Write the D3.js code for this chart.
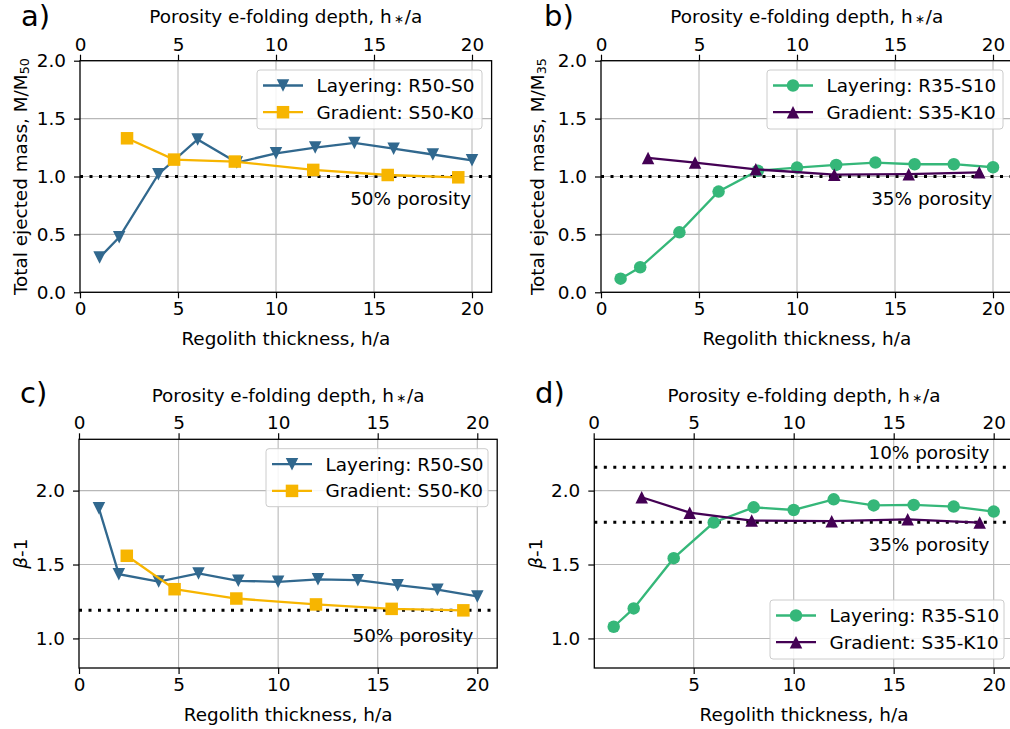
<!DOCTYPE html>
<html><head><meta charset="utf-8">
<script src="https://cdn.jsdelivr.net/npm/d3@7"></script>
<style>body{margin:0;background:#fff}svg{display:block}text{font-family:"DejaVu Sans",sans-serif;fill:#000}</style>
</head><body>
<svg id="chart" width="1010" height="729"></svg>
<script>
// ---- data ----
const xLayer = [1, 2, 4, 6, 8, 10, 12, 14, 16, 18, 20];
const xGrad = [2.4, 4.8, 7.9, 11.9, 15.7, 19.3];
const massR50 = [0.30, 0.475, 1.02, 1.32, 1.12, 1.20, 1.25, 1.29, 1.24, 1.19, 1.14];
const massS50 = [1.33, 1.146, 1.129, 1.057, 1.013, 0.993];
const massR35 = [0.118, 0.216, 0.518, 0.87, 1.05, 1.077, 1.10, 1.12, 1.106, 1.106, 1.08];
const massS35 = [1.16, 1.12, 1.062, 1.016, 1.02, 1.036];
const betaR50 = [1.88, 1.435, 1.385, 1.44, 1.39, 1.383, 1.40, 1.394, 1.36, 1.33, 1.284];
const betaS50 = [1.559, 1.333, 1.27, 1.23, 1.20, 1.19];
const betaR35 = [1.079, 1.203, 1.543, 1.784, 1.887, 1.869, 1.941, 1.90, 1.903, 1.892, 1.858];
const betaS35 = [1.955, 1.851, 1.797, 1.793, 1.806, 1.784];
const refMass = [1.0];
const refBeta50 = [1.19];
const refBeta35 = [2.158, 1.786];
const xTicks = [0, 5, 10, 15, 20];
const xTicksD = [5, 10, 15, 20];
const massTicks = [0.0, 0.5, 1.0, 1.5, 2.0];
const betaTicks = [1.0, 1.5, 2.0];

const C = {blue: "#31688e", orange: "#f7b500", green: "#35b779", purple: "#440154"};
const svg = d3.select("#chart");
const FS = 18.4;

function markerPath(type, s) {
  const h = s / 2;
  if (type === "square") return `M${-h},${-h}H${h}V${h}H${-h}Z`;
  if (type === "down") return `M${-h},${-h}H${h}L0,${h}Z`;
  if (type === "up") return `M${-h},${h}H${h}L0,${-h}Z`;
  return d3.symbol(d3.symbolCircle, Math.PI * h * h)();
}

function panel(cfg) {
  const g = svg.append("g");
  const x = d3.scaleLinear().domain(cfg.xd).range(cfg.xr);
  const y = d3.scaleLinear().domain(cfg.yd).range(cfg.yr);
  const [L, R] = cfg.xr, [B, T] = cfg.yr;
  // grid
  g.selectAll(".gx").data(cfg.xt.filter(v => v > cfg.xd[0])).enter().append("line")
    .attr("x1", d => x(d)).attr("x2", d => x(d)).attr("y1", T).attr("y2", B)
    .attr("stroke", "#b8b8b8").attr("stroke-width", 1.1);
  g.selectAll(".gy").data(cfg.yt).enter().append("line")
    .attr("x1", L).attr("x2", R).attr("y1", d => y(d)).attr("y2", d => y(d))
    .attr("stroke", "#b8b8b8").attr("stroke-width", 1.1);
  // reference lines
  g.selectAll(".ref").data(cfg.refs).enter().append("line")
    .attr("x1", L).attr("x2", R).attr("y1", d => y(d)).attr("y2", d => y(d))
    .attr("stroke", "#000").attr("stroke-width", 3).attr("stroke-dasharray", "3,6.5");
  // series
  cfg.series.forEach(s => {
    const pts = s.x.map((v, i) => [v, s.y[i]]);
    g.append("path").datum(pts)
      .attr("d", d3.line().x(d => x(d[0])).y(d => y(d[1])))
      .attr("fill", "none").attr("stroke", s.color).attr("stroke-width", 2.3);
    g.selectAll(null).data(pts).enter().append("path")
      .attr("d", markerPath(s.marker, 12.5))
      .attr("transform", d => `translate(${x(d[0])},${y(d[1])})`)
      .attr("fill", s.color);
  });
  // spines
  g.append("rect").attr("x", L).attr("y", T).attr("width", R - L).attr("height", B - T)
    .attr("fill", "none").attr("stroke", "#000").attr("stroke-width", 1.3);
  // axes
  const fmtY = d3.format(".1f");
  const ax = [
    g.append("g").attr("transform", `translate(0,${B})`).call(d3.axisBottom(x).tickValues(cfg.xtb).tickSize(6).tickPadding(4)),
    g.append("g").attr("transform", `translate(0,${T})`).call(d3.axisTop(x).tickValues(cfg.xt).tickSize(6).tickPadding(4)),
    g.append("g").attr("transform", `translate(${L},0)`).call(d3.axisLeft(y).tickValues(cfg.yt).tickFormat(fmtY).tickSize(6).tickPadding(8))
  ];
  ax.forEach(a => {
    a.select(".domain").remove();
    a.selectAll("line").attr("stroke", "#000").attr("stroke-width", 1.2);
    a.selectAll("text").style("font-size", FS + "px").style("font-family", '"DejaVu Sans",sans-serif').attr("fill", "#000");
  });
  // axis titles
  g.append("text").attr("x", (L + R) / 2).attr("y", B + 46).attr("text-anchor", "middle")
    .attr("dominant-baseline", "central").style("font-size", FS + "px").text("Regolith thickness, h/a");
  const tt = g.append("text").attr("x", (L + R) / 2).attr("y", T - 44.5).attr("text-anchor", "middle")
    .attr("dominant-baseline", "central").style("font-size", FS + "px");
  tt.append("tspan").text("Porosity e-folding depth, h");
  tt.append("tspan").text("\u2217").style("font-size", "12px").attr("dy", 3).attr("dx", 2);
  tt.append("tspan").text("/a").attr("dy", -3).attr("dx", 1);
  const yl = g.append("text").attr("transform", `translate(${cfg.ylx},${(T + B) / 2}) rotate(-90)`)
    .attr("text-anchor", "middle").attr("dominant-baseline", "central").style("font-size", FS + "px");
  if (cfg.ylab === "beta") {
    yl.append("tspan").text("\u03B2").style("font-style", "italic");
    yl.append("tspan").text("-1");
  } else {
    yl.append("tspan").text("Total ejected mass, M/M");
    yl.append("tspan").text(cfg.ylab).style("font-size", "12.8px").attr("dy", 4);
  }
  // panel letter
  g.append("text").attr("x", cfg.lab[0]).attr("y", cfg.lab[1]).style("font-size", "29px").text(cfg.letter);
  // annotations
  cfg.notes.forEach(n => {
    g.append("text").attr("x", x(n[0])).attr("y", y(n[1])).attr("text-anchor", "end")
      .attr("dominant-baseline", "central").style("font-size", FS + "px").text(n[2]);
  });
  // legend
  const lg = cfg.legend;
  g.append("rect").attr("x", lg.x).attr("y", lg.y).attr("width", lg.w).attr("height", lg.h)
    .attr("rx", 3).attr("fill", "#fff").attr("fill-opacity", 0.85).attr("stroke", "#cccccc").attr("stroke-width", 1);
  cfg.series.forEach((s, i) => {
    const ry = lg.y + 15.5 + i * 26.7;
    g.append("line").attr("x1", lg.x + 6).attr("x2", lg.x + 46).attr("y1", ry).attr("y2", ry)
      .attr("stroke", s.color).attr("stroke-width", 2.3);
    g.append("path").attr("d", markerPath(s.marker, 12.5)).attr("transform", `translate(${lg.x + 26},${ry})`).attr("fill", s.color);
    g.append("text").attr("x", lg.x + 59.5).attr("y", ry).attr("dominant-baseline", "central")
      .style("font-size", FS + "px").text(s.name);
  });
}

panel({
  letter: "a)", lab: [21, 26], xd: [0, 21], xr: [80, 491.6], yd: [0, 2], yr: [292.3, 60.7],
  xt: xTicks, xtb: xTicks, yt: massTicks, refs: refMass, ylab: "50", ylx: 20,
  series: [
    {name: "Layering: R50-S0", x: xLayer, y: massR50, color: C.blue, marker: "down"},
    {name: "Gradient: S50-K0", x: xGrad, y: massS50, color: C.orange, marker: "square"}
  ],
  notes: [[19.95, 0.81, "50% porosity"]],
  legend: {x: 257, y: 70, w: 225, h: 59}
});
panel({
  letter: "b)", lab: [544, 26], xd: [0, 21], xr: [601, 1012.6], yd: [0, 2], yr: [292.3, 60.7],
  xt: xTicks, xtb: xTicks, yt: massTicks, refs: refMass, ylab: "35", ylx: 537,
  series: [
    {name: "Layering: R35-S10", x: xLayer, y: massR35, color: C.green, marker: "circle"},
    {name: "Gradient: S35-K10", x: xGrad, y: massS35, color: C.purple, marker: "up"}
  ],
  notes: [[19.95, 0.81, "35% porosity"]],
  legend: {x: 767, y: 70, w: 236, h: 59}
});
panel({
  letter: "c)", lab: [20, 403], xd: [0, 21], xr: [79, 497.2], yd: [0.8, 2.347], yr: [668, 439.3],
  xt: xTicks, xtb: xTicks, yt: betaTicks, refs: refBeta50, ylab: "beta", ylx: 20,
  series: [
    {name: "Layering: R50-S0", x: xLayer, y: betaR50, color: C.blue, marker: "down"},
    {name: "Gradient: S50-K0", x: xGrad, y: betaS50, color: C.orange, marker: "square"}
  ],
  notes: [[19.8, 1.018, "50% porosity"]],
  legend: {x: 266, y: 448.7, w: 222, h: 58}
});
panel({
  letter: "d)", lab: [535, 403], xd: [0.03, 21], xr: [594.3, 1013.7], yd: [0.8, 2.347], yr: [668, 439.3],
  xt: xTicks, xtb: xTicksD, yt: betaTicks, refs: refBeta35, ylab: "beta", ylx: 535,
  series: [
    {name: "Layering: R35-S10", x: xLayer, y: betaR35, color: C.green, marker: "circle"},
    {name: "Gradient: S35-K10", x: xGrad, y: betaS35, color: C.purple, marker: "up"}
  ],
  notes: [[19.78, 2.257, "10% porosity"], [19.78, 1.637, "35% porosity"]],
  legend: {x: 770, y: 600, w: 234, h: 59}
});
</script>
</body></html>
